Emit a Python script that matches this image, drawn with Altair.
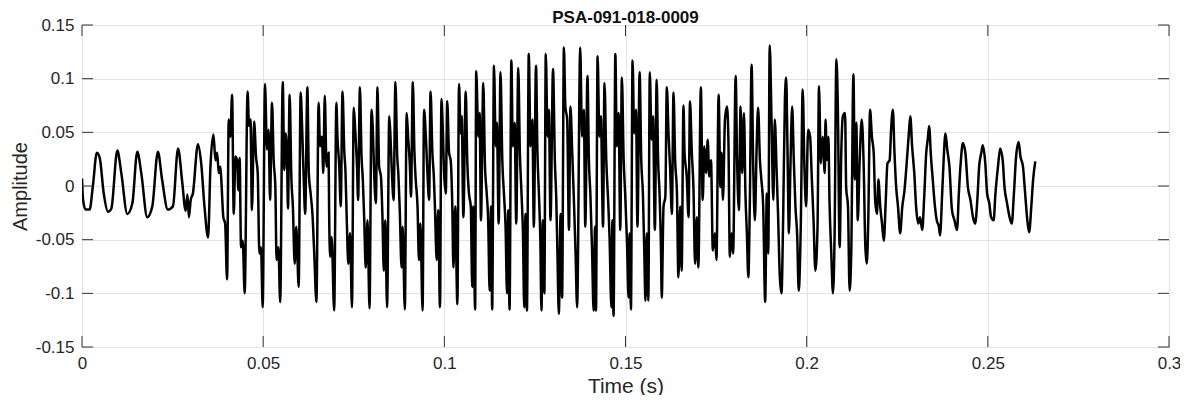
import altair as alt
import pandas as pd

TITLE = "PSA-091-018-0009"
X_TITLE = "Time (s)"
Y_TITLE = "Amplitude"
X_TICKS = [0, 0.05, 0.1, 0.15, 0.2, 0.25, 0.3]
Y_TICKS = [-0.15, -0.1, -0.05, 0, 0.05, 0.1, 0.15]

# Key points of the waveform: (time in ms, amplitude)
SEG_ONSET = [
    (0.0, 0.007), (0.3, -0.013), (1.0, -0.022), (2.1, -0.022), (3.0, 0.0), (4.1, 0.031),
    (4.9, 0.026), (6.0, -0.007), (7.2, -0.024), (8.1, -0.021), (9.75, 0.033), (10.85, 0.012),
    (12.5, -0.026), (13.9, -0.016), (15.26, 0.032), (16.36, 0.012), (18.0, -0.029), (19.4, -0.019),
    (20.95, 0.032), (22.1, 0.006), (23.7, -0.022), (25.1, -0.019), (26.5, 0.035), (27.65, 0.004),
    (28.6, -0.023), (29.1, -0.008), (29.5, -0.029), (30.0, -0.013), (30.6, -0.007), (32.0, 0.039),
    (32.9, 0.021), (33.8, -0.019), (34.8, -0.048),
]
SEG_A = [
    (35.45, 0.018), (36.28, 0.048), (36.83, 0.024), (37.3, 0.031), (37.75, 0.012), (38.2, 0.018),
    (38.5, 0.0025), (39.0, -0.029), (39.5, -0.035), (40.04, -0.087), (40.5, 0.062), (40.96, 0.046),
    (41.42, 0.085), (41.88, -0.026), (42.34, 0.0275), (42.8, 0.024), (43.16, -0.004), (43.5, 0.026),
    (43.9, -0.057), (44.36, -0.051), (44.9, -0.1), (45.7, 0.088), (46.1, 0.056), (46.5, 0.062),
    (46.9, -0.0225), (47.5, 0.06), (48.03, 0.0275), (48.5, 0.012), (48.95, -0.063), (49.4, -0.057),
    (49.87, -0.113), (50.5, 0.095), (51.06, 0.034), (51.5, 0.0525), (51.9, -0.013), (52.44, 0.0775),
    (52.9, 0.024), (53.36, -0.001), (53.7, -0.069), (54.2, -0.057), (54.7, -0.108), (55.4, 0.097),
    (55.84, 0.015), (56.2, 0.049), (56.6, 0.024), (56.85, -0.021), (57.3, 0.085), (57.8, 0.006),
    (58.2, -0.019), (58.7, -0.0725), (59.15, -0.038), (59.8, -0.094), (60.34, 0.087), (60.8, 0.049),
    (61.2, 0.006), (61.6, -0.026), (62.2, 0.092), (62.6, 0.012), (63.1, -0.007), (63.6, -0.026),
    (64.1, -0.063), (64.7, -0.108), (65.3, 0.0775), (65.7, 0.037), (66.2, 0.046), (66.6, 0.012),
    (67.0, 0.084), (67.5, 0.018), (68.05, 0.031),
]
SEG_B = [
    (68.2, -0.0225), (68.5, -0.066), (68.9, -0.0475), (69.6, -0.116), (70.2, 0.0775), (70.5, 0.046),
    (71.0, 0.018), (71.4, -0.019), (71.9, 0.088), (72.4, 0.031), (72.7, 0.015), (73.1, -0.035),
    (73.5, -0.0725), (74.0, -0.044), (74.5, -0.113), (75.0, 0.073), (75.4, 0.0525), (75.9, 0.018),
    (76.2, -0.013), (76.7, 0.092), (77.15, 0.0275), (77.5, 0.006), (77.9, -0.032), (78.3, -0.076),
    (78.8, -0.032), (79.35, -0.114), (79.9, 0.071), (80.3, 0.049), (80.6, 0.015), (81.1, -0.016),
    (81.55, 0.092), (82.0, 0.018), (82.5, 0.009), (82.9, -0.026), (83.3, -0.079), (83.7, -0.032),
    (84.2, -0.113), (84.8, 0.065), (85.1, 0.049), (85.5, 0.015), (86.0, -0.013), (86.5, 0.097),
    (87.0, 0.0275), (87.3, 0.012), (87.7, -0.0225), (88.2, -0.076), (88.5, -0.038), (89.1, -0.115),
    (89.6, 0.068), (90.0, 0.046), (90.5, 0.018), (90.8, -0.01), (91.3, 0.097), (91.75, 0.031),
    (92.1, 0.006), (92.6, -0.019), (93.0, -0.069), (93.4, -0.035), (94.0, -0.116), (94.4, 0.071),
    (94.9, 0.046), (95.3, 0.015), (95.8, -0.013), (96.2, 0.088), (96.7, 0.031), (97.1, 0.009),
    (97.4, -0.019), (97.9, -0.069), (98.3, -0.0225), (98.8, -0.113), (99.2, 0.081), (99.6, 0.049),
    (99.9, 0.015), (100.4, -0.007), (100.8, 0.079), (101.3, 0.031), (101.75, 0.024), (102.2, -0.019),
    (102.5, -0.076),
]
SEG_C = [
    (103.0, -0.019), (103.6, -0.11), (104.05, 0.095), (104.5, 0.049), (104.8, 0.065), (105.25, -0.029),
    (105.9, 0.088), (106.35, 0.021), (106.8, -0.007), (107.3, -0.019), (107.7, -0.094), (108.0, -0.019),
    (108.5, -0.115), (108.8, 0.107), (109.4, 0.046), (109.75, 0.068), (110.1, -0.032), (110.75, 0.096),
    (111.2, 0.021), (111.7, -0.007), (112.1, -0.032), (112.5, -0.0975), (112.9, -0.019), (113.2, -0.115),
    (113.7, 0.112), (114.2, 0.037), (114.5, 0.059), (115.0, -0.035), (115.5, 0.106), (116.0, 0.024),
    (116.5, -0.01), (116.9, -0.038), (117.3, -0.1), (117.65, -0.0225), (118.0, -0.115), (118.5, 0.117),
    (118.9, 0.037), (119.4, 0.059), (119.85, -0.035), (120.4, 0.11), (120.85, 0.031), (121.3, -0.007),
    (121.7, -0.044), (122.05, -0.113), (122.4, -0.026), (122.8, -0.116), (123.3, 0.123), (123.8, 0.037),
    (124.3, 0.062), (124.7, -0.038), (125.3, 0.112), (125.7, 0.031), (126.1, -0.007), (126.5, -0.051),
    (126.8, -0.116), (127.2, -0.032), (127.6, -0.1), (128.0, 0.123), (128.5, 0.046), (128.85, 0.071),
    (129.3, -0.032), (130.0, 0.109), (130.5, 0.024), (130.9, -0.013), (131.2, -0.06), (131.6, -0.119),
    (132.1, -0.026), (132.5, -0.104), (133.0, 0.129), (133.4, 0.074), (133.9, 0.062), (134.4, -0.041),
    (134.8, 0.074), (135.3, 0.031), (135.7, -0.007), (136.2, -0.06), (136.65, -0.113),
]
SEG_D = [
    (137.5, 0.129), (138.0, 0.046), (138.5, 0.071), (138.9, -0.038), (139.5, 0.1025), (139.9, 0.024),
    (140.3, -0.007), (140.75, -0.057), (141.2, -0.116), (141.6, -0.038), (141.85, -0.116), (142.3, 0.121),
    (142.8, 0.046), (143.2, 0.065), (143.8, -0.038), (144.2, 0.096), (144.7, 0.024), (145.2, -0.013),
    (145.6, -0.0475), (146.1, -0.113), (146.4, -0.032), (146.7, -0.121), (147.2, 0.123), (147.6, 0.037),
    (148.1, 0.068), (148.55, -0.041), (149.0, 0.101), (149.5, 0.024), (149.9, -0.007), (150.4, -0.051),
    (150.85, -0.104), (151.1, -0.044), (151.5, -0.115), (151.95, 0.117), (152.4, 0.049), (152.9, 0.071),
    (153.3, -0.038), (153.9, 0.106), (154.35, 0.024), (154.8, -0.007), (155.2, -0.063), (155.5, -0.107),
    (155.9, -0.044), (156.3, -0.107), (156.7, 0.106), (157.2, 0.043), (157.6, 0.065), (158.1, -0.041),
    (158.6, 0.099), (159.0, 0.024), (159.4, -0.007), (159.8, -0.06), (160.0, -0.104), (160.5, -0.019),
    (161.0, -0.01), (161.4, 0.092), (161.9, 0.046), (162.3, 0.018), (162.8, -0.026), (163.25, 0.087),
    (163.7, 0.024), (164.2, -0.007), (164.6, -0.085), (165.1, -0.019), (165.5, -0.079), (166.0, 0.075),
    (166.3, 0.031), (166.9, 0.009), (167.4, -0.029), (167.8, 0.079), (168.3, 0.031), (168.75, -0.001),
    (169.2, -0.0725), (169.7, -0.029), (170.1, -0.076), (170.8, 0.092),
]
SEG_E = [
    (171.3, -0.013), (171.75, 0.037), (172.2, 0.012), (172.7, 0.043), (173.1, 0.009), (173.6, 0.024),
    (174.1, -0.06), (174.7, -0.044), (175.1, -0.069), (175.7, 0.085), (176.2, -0.001), (176.5, 0.031),
    (176.9, -0.013), (177.45, 0.062), (178.0, 0.074), (178.4, 0.043), (178.8, -0.066), (179.3, -0.044),
    (179.7, -0.063), (180.4, 0.1025), (180.8, 0.024), (181.3, -0.0225), (181.75, 0.074), (182.2, 0.012),
    (182.7, 0.068), (183.1, -0.007), (183.5, -0.044), (183.9, -0.085), (184.3, -0.019), (184.8, 0.113),
    (185.25, 0.018), (185.7, -0.032), (186.2, 0.037), (186.6, 0.073), (187.1, 0.024), (187.5, 0.006),
    (188.0, -0.019), (188.55, -0.108), (189.0, -0.007), (189.4, -0.063), (189.8, 0.131), (190.3, 0.062),
    (190.8, -0.013), (191.2, 0.062), (191.7, 0.015), (192.1, -0.026), (192.6, -0.085), (193.05, -0.1),
    (193.5, -0.032), (194.0, 0.081), (194.35, 0.101), (194.7, 0.037), (195.1, -0.044), (195.5, 0.015),
    (196.0, 0.074), (196.45, 0.024), (196.9, -0.019), (197.4, -0.0475), (197.8, -0.0975), (198.4, -0.032),
    (198.9, 0.09), (199.4, 0.015), (199.85, -0.019), (200.4, 0.0525), (200.95, 0.046), (201.4, 0.009),
    (201.9, -0.032), (202.4, -0.079), (203.0, -0.038), (203.4, 0.093), (203.9, 0.021), (204.4, 0.046),
    (205.0, 0.012),
]
SEG_F = [
    (205.2, 0.062), (205.6, 0.024), (206.0, 0.046), (206.3, -0.013), (206.8, -0.063), (207.25, -0.1),
    (207.7, -0.0475), (208.2, 0.118), (208.6, 0.074), (209.1, -0.057), (209.55, 0.031), (210.0, 0.065),
    (210.6, 0.068), (210.9, -0.001), (211.4, -0.019), (211.85, -0.0975), (212.3, -0.063), (212.9, 0.104),
    (213.3, 0.006), (213.7, 0.059), (214.1, -0.032), (214.6, 0.021), (215.2, 0.062), (215.7, 0.024),
    (216.2, -0.057), (216.6, -0.0725), (217.0, -0.032), (217.5, 0.071), (218.0, 0.046), (218.5, 0.031),
    (218.9, -0.013), (219.4, -0.026), (219.8, 0.006), (220.3, -0.019), (220.8, -0.035), (221.3, -0.051),
    (221.8, -0.016), (222.3, 0.021), (222.9, 0.024), (223.3, 0.0525), (223.8, 0.071), (224.2, 0.034),
    (224.7, -0.001), (225.2, -0.019), (225.8, -0.044), (226.4, -0.019), (227.0, -0.004), (227.6, 0.021),
    (228.2, 0.049), (228.6, 0.065), (229.1, 0.037), (229.7, 0.012), (230.2, -0.019), (230.8, -0.035),
    (231.3, -0.029), (231.9, -0.041), (232.4, -0.013), (233.0, 0.031), (233.4, 0.043), (233.8, 0.056),
    (234.3, 0.0275), (234.8, 0.006), (235.4, -0.019), (235.9, -0.032), (236.5, -0.038), (236.8, -0.046),
    (237.4, -0.007), (237.8, 0.024), (238.3, 0.049), (238.8, 0.034), (239.4, 0.018),
]
SEG_G = [
    (240.1, -0.0225), (240.8, -0.032), (241.5, -0.041), (242.0, -0.007), (242.5, 0.021), (243.1, 0.04),
    (243.8, 0.031), (244.5, -0.001), (245.2, -0.013), (245.9, -0.029), (246.5, -0.035), (247.1, -0.013),
    (247.6, 0.018), (248.2, 0.031), (248.6, 0.038), (249.3, 0.021), (249.8, -0.007), (250.4, -0.016),
    (250.9, -0.029), (251.6, -0.032), (252.1, -0.007), (252.8, 0.018), (253.4, 0.035), (254.1, 0.024),
    (254.6, -0.001), (255.3, -0.016), (256.0, -0.029), (256.6, -0.035), (257.2, -0.007), (257.8, 0.0275),
    (258.5, 0.041), (259.0, 0.0275), (259.7, 0.018), (260.3, -0.007), (260.9, -0.032), (261.4, -0.043),
    (262.0, -0.019), (262.5, 0.006), (263.1, 0.023),
]

SEGMENTS = [SEG_ONSET, SEG_A, SEG_B, SEG_C, SEG_D, SEG_E, SEG_F, SEG_G]
df = pd.DataFrame(
    [{"t": t / 1000.0, "a": a} for seg in SEGMENTS for (t, a) in seg]
)
xt = pd.DataFrame({"t": X_TICKS})
yt = pd.DataFrame({"a": Y_TICKS})

W, H = 1087, 322
TL = 11
FONT = "Liberation Sans"
TXT = "#262626"
TICK = "#333333"

xs = alt.Scale(domain=[0, 0.3], nice=False, zero=False)
ys = alt.Scale(domain=[-0.15, 0.15], nice=False, zero=False)

x_axis = alt.Axis(
    values=X_TICKS, title=X_TITLE, labelExpr="'' + datum.value",
    ticks=False, domain=False, grid=True, labelPadding=8, labelFlush=False,
    labelFont=FONT, labelFontSize=17, labelColor=TXT,
    titleFont=FONT, titleFontSize=21, titleFontWeight="normal", titleColor=TXT,
    gridColor="#e3e3e3", gridWidth=1,
    titleBaseline="middle", titleY=39, titleX=W / 2, titleAlign="center",
)
y_axis = alt.Axis(
    values=Y_TICKS, title=Y_TITLE, labelExpr="'' + datum.value",
    ticks=False, domain=False, grid=True, labelPadding=8, labelFlush=False,
    labelFont=FONT, labelFontSize=17, labelColor=TXT,
    titleFont=FONT, titleFontSize=20, titleFontWeight="normal", titleColor=TXT,
    gridColor="#e3e3e3", gridWidth=1,
    titleAngle=270, titleBaseline="middle", titleAlign="center",
    titleX=-62, titleY=H / 2,
)

line = alt.Chart(df).mark_line(
    color="black", strokeWidth=2.5, interpolate="monotone", clip=True
).encode(
    x=alt.X("t:Q", scale=xs, axis=x_axis, title=X_TITLE),
    y=alt.Y("a:Q", scale=ys, axis=y_axis, title=Y_TITLE),
)

bottom_t = alt.Chart(xt).mark_rule(color=TICK, strokeWidth=1).encode(
    x=alt.X("t:Q", scale=xs, axis=x_axis, title=X_TITLE), y=alt.value(H), y2=alt.value(H - TL))
top_t = alt.Chart(xt).mark_rule(color=TICK, strokeWidth=1).encode(
    x=alt.X("t:Q", scale=xs, axis=x_axis, title=X_TITLE), y=alt.value(0), y2=alt.value(TL))
left_t = alt.Chart(yt).mark_rule(color=TICK, strokeWidth=1).encode(
    y=alt.Y("a:Q", scale=ys, axis=y_axis, title=Y_TITLE), x=alt.value(0), x2=alt.value(TL))
right_t = alt.Chart(yt).mark_rule(color=TICK, strokeWidth=1).encode(
    y=alt.Y("a:Q", scale=ys, axis=y_axis, title=Y_TITLE), x=alt.value(W - TL), x2=alt.value(W))

chart = alt.layer(line, bottom_t, top_t, left_t, right_t).properties(
    width=W, height=H,
    autosize=alt.AutoSizeParams(type="none"),
    padding={"left": 74, "top": 17, "right": 11, "bottom": 48},
    background="white",
    title=alt.Title(TITLE, fontSize=17, fontWeight="bold", font=FONT,
                    color="#111111", anchor="middle", offset=0, dy=11),
).configure_view(
    stroke="#5e5e5e", strokeWidth=1
)

chart.save("out.html", embed_options={"renderer": "svg", "actions": False})
